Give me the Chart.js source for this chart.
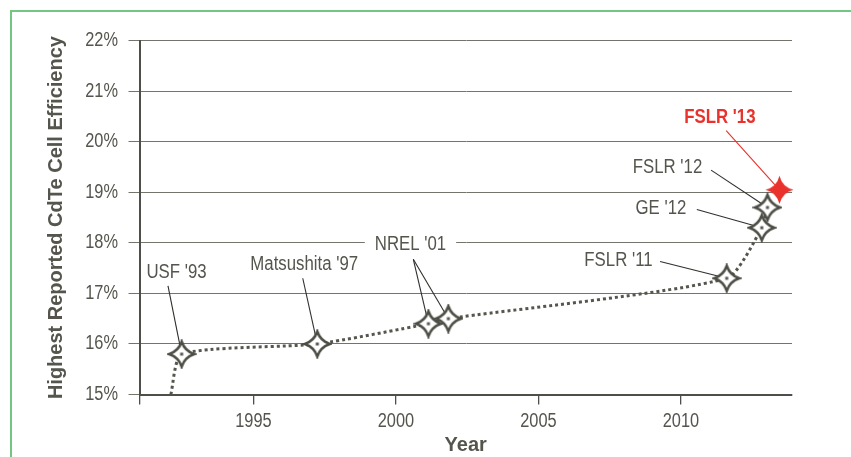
<!DOCTYPE html>
<html>
<head>
<meta charset="utf-8">
<script src="https://cdn.jsdelivr.net/npm/chart.js@4.4.1/dist/chart.umd.min.js"></script>
<style>
  html, body { margin: 0; padding: 0; background: #fff; overflow: hidden; }
  #wrap { position: relative; width: 851px; height: 457px; }
  #frame { position: absolute; left: 10px; top: 10px; right: -3px; bottom: -3px;
           border-top: 2px solid #74c682; border-left: 2px solid #74c682; }
  canvas { position: absolute; left: 0; top: 0; }
</style>
</head>
<body>
<div id="wrap"><div id="frame"></div><canvas id="c" width="851" height="457"></canvas></div>
<script>
// CdTe 电池最高效率记录（读图估值）
const years = [1992.1, 1992.48, 1997.24, 2001.14, 2001.84, 2011.61, 2012.84, 2013.04];
const efficiency = [15.0, 15.8, 16.0, 16.4, 16.5, 17.3, 18.3, 18.7];
const recordYears = [2013.46];
const recordEfficiency = [19.05];
const yearTicks = [1991, 1995, 2000, 2005, 2010];
const pctTicks = [15, 16, 17, 18, 19, 20, 21, 22];
const labelTexts = ["USF '93", "Matsushita '97", "NREL '01", "FSLR '11", "GE '12", "FSLR '12", "FSLR '13"];

// 标注摆放（数据坐标）：文字中心、引线起点、指向的点
const callouts = [
  { at: [1992.30, 17.41], from: [1992.00, 17.15], to: [1] },
  { at: [1996.78, 17.57], from: [1996.73, 17.30], to: [2] },
  { at: [2000.51, 17.96], from: [2000.61, 17.675], to: [3, 4], mask: true },
  { at: [2007.81, 17.645], from: [2009.27, 17.63], to: [5] },
  { at: [2009.30, 18.68], from: [2010.56, 18.66], to: [6] },
  { at: [2009.53, 19.49], from: [2011.06, 19.44], to: [7] },
  { at: [2011.37, 20.49], from: [2011.59, 20.22], record: true },
];

const INK = '#55554e';
const GRID = '#74746c';
const AXIS = '#4f4f49';
const RED = '#e8322b';
const SANS = "'Liberation Sans', Arial, sans-serif";
const SQUEEZE = 0.84; // 原图是窄体字，这里横向压缩

function star(r, k, fill, stroke, dot) {
  const s = Math.ceil(2 * r + 5);
  const cv = document.createElement('canvas');
  cv.width = s; cv.height = s;
  const g = cv.getContext('2d');
  g.translate(s / 2, s / 2);
  const c = r * k;
  g.beginPath();
  g.moveTo(0, -r);
  g.quadraticCurveTo(c, -c, r, 0);
  g.quadraticCurveTo(c, c, 0, r);
  g.quadraticCurveTo(-c, c, -r, 0);
  g.quadraticCurveTo(-c, -c, 0, -r);
  g.closePath();
  g.fillStyle = fill;
  g.fill();
  if (stroke) { g.lineWidth = 2.5; g.lineJoin = 'miter'; g.strokeStyle = stroke; g.stroke(); }
  if (dot) { g.fillStyle = dot; g.fillRect(-1.5, -1.5, 3, 3); }
  return cv;
}
const openStar = star(12.5, 0.25, '#fff', '#4d4d46', '#55554e');
const redStar = star(14, 0.2, RED);

function squeezedText(ctx, text, x, y) {
  ctx.save();
  ctx.translate(x, y);
  ctx.scale(SQUEEZE, 1);
  ctx.fillText(text, 0, 0);
  ctx.restore();
}

const calloutPlugin = {
  id: 'callouts',
  beforeDatasetsDraw(chart) {
    const { ctx, scales: { x, y } } = chart;
    ctx.save();

    // 刻度文字（取自坐标轴自己的 ticks）
    ctx.fillStyle = INK;
    ctx.font = '19.5px ' + SANS;
    ctx.textBaseline = 'middle';
    ctx.textAlign = 'right';
    y.ticks.forEach(t => squeezedText(ctx, t.value + '%', 118, y.getPixelForValue(t.value)));
    ctx.textAlign = 'center';
    x.ticks.forEach(t => {
      if (t.value !== yearTicks[0]) squeezedText(ctx, String(t.value), x.getPixelForValue(t.value), 422);
    });

    const items = callouts.map((c, i) => {
      ctx.font = (c.record ? 'bold ' : '') + '20px ' + SANS;
      return { c, text: labelTexts[i], font: ctx.font, w: ctx.measureText(labelTexts[i]).width * SQUEEZE,
               cx: x.getPixelForValue(c.at[0]), cy: y.getPixelForValue(c.at[1]) };
    });
    // 白底，遮住网格线
    ctx.fillStyle = '#fff';
    items.filter(it => it.c.mask).forEach(it => ctx.fillRect(it.cx - it.w / 2 - 10, it.cy - 10, it.w + 20, 20));
    // 引线
    items.forEach(({ c }) => {
      const fx = x.getPixelForValue(c.from[0]), fy = y.getPixelForValue(c.from[1]);
      const targets = c.record
        ? [[recordYears[0], recordEfficiency[0]]]
        : c.to.map(k => [years[k], efficiency[k]]);
      ctx.strokeStyle = c.record ? RED : '#2f2f2b';
      ctx.lineWidth = 1.1;
      targets.forEach(([tx, ty]) => {
        ctx.beginPath();
        ctx.moveTo(fx, fy);
        ctx.lineTo(x.getPixelForValue(tx), y.getPixelForValue(ty));
        ctx.stroke();
      });
    });
    // 文字
    ctx.textAlign = 'center';
    ctx.textBaseline = 'middle';
    items.forEach(it => {
      ctx.font = it.font;
      ctx.fillStyle = it.c.record ? RED : INK;
      squeezedText(ctx, it.text, it.cx, it.cy);
    });
    ctx.restore();
  }
};

new Chart(document.getElementById('c'), {
  type: 'scatter',
  data: {
    datasets: [
      {
        data: recordYears.map((v, i) => ({ x: v, y: recordEfficiency[i] })),
        pointStyle: redStar, pointRadius: 13, showLine: false, clip: false, order: 0,
      },
      {
        data: years.map((v, i) => ({ x: v, y: efficiency[i] })),
        showLine: true, borderColor: '#56564e', borderWidth: 3, borderDash: [3, 3],
        tension: 0.2, clip: false, order: 1,
        pointStyle: openStar,
        pointRadius: c => (c.dataIndex === 0 ? 0 : 12),
      },
    ],
  },
  options: {
    responsive: false, animation: false, events: [],
    layout: { padding: { left: 0, top: 40.7, right: 59, bottom: 0 } },
    plugins: { legend: { display: false }, tooltip: { enabled: false } },
    scales: {
      x: {
        type: 'linear', min: 1991, max: 2013.9,
        afterBuildTicks: s => { s.ticks = yearTicks.map(v => ({ value: v })); },
        afterFit: s => { s.height = 62.5; },
        grid: { drawOnChartArea: false, drawTicks: true, tickLength: 10, color: AXIS, lineWidth: 1.3 },
        border: { color: AXIS, width: 2 },
        ticks: { display: false },
        title: { display: true, text: 'Year', color: INK, font: { family: SANS, size: 20, weight: 'bold' },
                 padding: { top: 0, bottom: 0 } },
      },
      y: {
        min: 15, max: 22,
        afterBuildTicks: s => { s.ticks = pctTicks.map(v => ({ value: v })); },
        afterFit: s => { s.width = 139.5; },
        grid: { color: GRID, lineWidth: 1, tickLength: 11 },
        border: { color: AXIS, width: 2 },
        ticks: { display: false },
        title: { display: true, text: 'Highest Reported CdTe Cell Efficiency', color: INK,
                 font: { family: SANS, size: 20, weight: 'bold' }, padding: { top: 44, bottom: 0 } },
      },
    },
  },
  plugins: [calloutPlugin],
});
</script>
</body>
</html>
